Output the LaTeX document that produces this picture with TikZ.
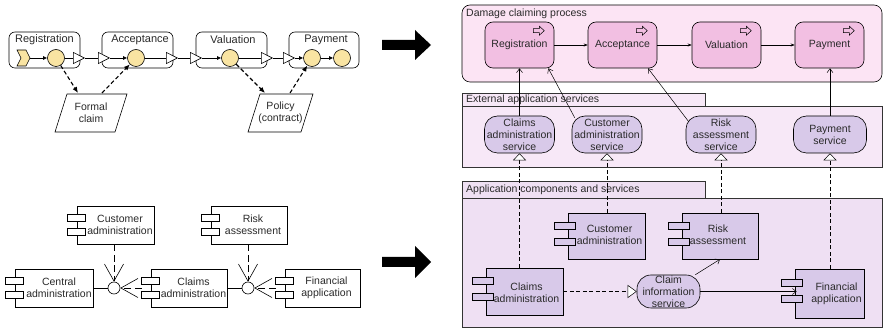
\documentclass[tikz,border=0pt]{standalone}
\usepackage{fontspec}
\setmainfont{Liberation Sans}
\usetikzlibrary{arrows.meta,calc}
\definecolor{yel}{HTML}{F9E4A2}
\definecolor{pinkbg}{HTML}{FCE4F4}
\definecolor{pinkproc}{HTML}{F2BFE2}
\definecolor{extbg}{HTML}{F7E8F7}
\definecolor{appbg}{HTML}{EFE0F3}
\definecolor{lav}{HTML}{D8C9E9}
\definecolor{txt}{HTML}{2A2A2A}
\definecolor{bord}{HTML}{333333}
\newcommand\smallrectsL[1]{%
  \draw[line width=0.6pt,fill=white] ($(#1.west)+(-9,-11)$) rectangle ++(18,7);
  \draw[line width=0.6pt,fill=white] ($(#1.west)+(-9,3)$) rectangle ++(18,7);}
\newcommand\smallrectsR[1]{%
  \draw[line width=0.6pt,fill=lav] ($(#1.west)+(-13,-14)$) rectangle ++(21,7);
  \draw[line width=0.6pt,fill=lav] ($(#1.west)+(-13,2)$) rectangle ++(21,7);}
\newcommand\procicon[1]{%
  \draw[line width=0.5pt] ($(#1.north east)+(-21,7)$) -- ++(6,0) -- ++(0,-2.5) -- ++(5,4.5) -- ++(-5,4.5) -- ++(0,-2.5) -- ++(-6,0) -- cycle;}
\begin{document}
\begin{tikzpicture}[x=1pt,y=-1pt,
  every node/.style={font=\fontsize{10.5}{12}\selectfont, inner sep=0pt, text=txt},
  pgroup/.style={draw, rounded corners=6pt, line width=0.6pt},
  ycirc/.style={draw, circle, fill=yel, minimum size=17pt, line width=0.6pt},
  tri/.style={line width=0.6pt, -{Triangle[fill=white,length=12pt,width=12pt,line width=0.6pt]}},
  flow/.style={line width=0.6pt, -{Latex[length=4pt,width=4pt]}},
  dashthick/.style={line width=1.1pt, dash pattern=on 4pt off 2.5pt, -{Latex[length=6pt,width=5pt]}},
  compL/.style={draw, fill=white, line width=0.6pt},
  openv/.style={line width=0.9pt, dash pattern=on 7pt off 3.5pt, -{Straight Barb[length=17pt,width=19pt,line width=0.6pt]}},
  bigarrow/.style={fill=black},
  layer/.style={draw=bord, line width=0.6pt},
  proc/.style={draw, rounded corners=8pt, fill=pinkproc, minimum width=69pt, minimum height=46pt, line width=0.6pt},
  serv/.style={draw, rounded corners=13pt, fill=lav, minimum width=70pt, minimum height=37pt, line width=0.6pt, align=center},
  compR/.style={draw, fill=lav, line width=0.6pt},
  pflow/.style={line width=0.5pt, -{Stealth[length=4pt,width=3pt]}},
  used/.style={line width=0.5pt, -{Straight Barb[length=4pt,width=6pt,line width=0.5pt]}},
  real/.style={line width=0.5pt, dash pattern=on 4pt off 2.5pt, -{Triangle[fill=white,length=7pt,width=13pt,line width=0.5pt]}},
]
\useasboundingbox (0,0) rectangle (883,328);

% ================= left top: process flow =================
\node[pgroup, minimum width=71pt, minimum height=36pt] (gReg) at (44.5,50) {};
\node[pgroup, minimum width=71pt, minimum height=36pt] (gAcc) at (137.5,50) {};
\node[pgroup, minimum width=71pt, minimum height=36pt] (gVal) at (231.5,50) {};
\node[pgroup, minimum width=70pt, minimum height=36pt] (gPay) at (324,50) {};
\node[font=\fontsize{11}{12}\selectfont] (lReg) at (44.5,40) {Registration};
\node[font=\fontsize{11}{12}\selectfont] (lAcc) at (140,39.5) {Acceptance};
\node[font=\fontsize{11}{12}\selectfont] (lVal) at (233,39.5) {Valuation};
\node[font=\fontsize{11}{12}\selectfont] (lPay) at (326,39.5) {Payment};

\coordinate (ev) at (30,58);
\draw[fill=yel, line width=0.6pt] (17,50) -- (26,50) -- (30,58) -- (26,66) -- (17,66) -- (21,58) -- cycle;
\node[ycirc] (c1) at (56,58) {};
\node[ycirc] (c2) at (136,58) {};
\node[ycirc] (c3) at (230,58) {};
\node[ycirc] (c4) at (312,58) {};
\node[ycirc] (c5) at (342,58) {};
\coordinate (t1) at (85,58);
\coordinate (t2) at (110,58);
\coordinate (t3) at (178,58);
\coordinate (t4) at (202,58);
\coordinate (t5) at (273,58);
\coordinate (t6) at (295,58);
\draw[flow] (ev) -- (c1);
\draw[tri] (c1) -- (t1);
\draw[tri] (t1) -- (t2);
\draw[flow] (t2) -- (c2);
\draw[tri] (c2) -- (t3);
\draw[tri] (t3) -- (t4);
\draw[flow] (t4) -- (c3);
\draw[tri] (c3) -- (t5);
\draw[tri] (t5) -- (t6);
\draw[flow] (t6) -- (c4);
\draw[flow] (c4) -- (c5);

% data objects
\draw[line width=0.6pt, fill=white] (55,132) -- (67,94) -- (127,94) -- (115,132) -- cycle;
\node[align=center] (fclaim) at (91,113) {Formal\\claim};
\draw[line width=0.6pt, fill=white] (248,132) -- (260,94) -- (313,94) -- (301,132) -- cycle;
\node[align=center] (policy) at (280.5,113) {Policy\\(contract)};
\coordinate (fA) at (78,93);
\coordinate (fB) at (102,93);
\coordinate (pA) at (265,93);
\coordinate (pB) at (290,93);
\draw[dashthick] (c1) -- (fA);
\draw[dashthick] (fB) -- (c2);
\draw[dashthick] (c3) -- (pA);
\draw[dashthick] (pB) -- (c4);

% ================= left bottom: components =================
\node[compL, minimum width=77pt, minimum height=38pt] (cust) at (115.5,225) {};
\node[compL, minimum width=76pt, minimum height=38pt] (risk) at (249,225) {};
\node[compL, minimum width=78pt, minimum height=38pt] (central) at (54,288) {};
\node[compL, minimum width=76pt, minimum height=38pt] (claims) at (189,288) {};
\node[compL, minimum width=75pt, minimum height=38pt] (fin) at (322.5,288) {};
\smallrectsL{cust}\smallrectsL{risk}\smallrectsL{central}\smallrectsL{claims}\smallrectsL{fin}
\node[align=center] (custT) at ($(cust.center)+(4.5,0)$) {Customer\\administration};
\node[align=center] (riskT) at ($(risk.center)+(4,0)$) {Risk\\assessment};
\node[align=center] (centralT) at ($(central.center)+(5,0)$) {Central\\administration};
\node[align=center] (claimsT) at ($(claims.center)+(4.5,0)$) {Claims\\administration};
\node[align=center] (finT) at ($(fin.center)+(4,0)$) {Financial\\application};

\node[draw, circle, fill=white, minimum size=12pt, line width=0.6pt] (ci1) at (114,288) {};
\node[draw, circle, fill=white, minimum size=12pt, line width=0.6pt] (ci2) at (248,288) {};
\draw[line width=0.6pt] (central.east) -- (ci1);
\draw[line width=0.6pt] (claims.east) -- (ci2);
\coordinate (claimsL) at ($(claims.west)+(-9,0)$);
\coordinate (finL) at ($(fin.west)+(-9,0)$);
\draw[openv] (ci1 |- cust.south) -- (ci1);
\draw[openv] (claimsL) -- (ci1);
\draw[openv] (ci2 |- risk.south) -- (ci2);
\draw[openv] (finL) -- (ci2);

% ================= big arrows =================
\fill[bigarrow] (382,40) -- (415,40) -- (415,30) -- (431,45) -- (415,60) -- (415,50) -- (382,50) -- cycle;
\fill[bigarrow] (382,257) -- (415,257) -- (415,246) -- (431,262) -- (415,278) -- (415,267) -- (382,267) -- cycle;

% ================= right: layers =================
\node[draw, rounded corners=8pt, fill=pinkbg, minimum width=420pt, minimum height=77pt, line width=0.6pt] (dcp) at (672,43.5) {};
\node[anchor=west] (dcpL) at (466,14) {Damage claiming process};

\node[layer, fill=extbg, minimum width=243pt, minimum height=13pt] (extTab) at (583.5,99.5) {};
\node[layer, fill=extbg, minimum width=420pt, minimum height=61pt] (extBox) at (672,136.5) {};
\node[anchor=west] (extL) at (466,100) {External application services};

\node[layer, fill=appbg, minimum width=243pt, minimum height=17pt] (appTab) at (583.5,189.5) {};
\node[layer, fill=appbg, minimum width=420pt, minimum height=129pt] (appBox) at (672,262.5) {};
\node[anchor=west] (appL) at (466,189.5) {Application components and services};

% processes
\node[proc] (reg) at (519.5,45) {Registration};
\node[proc] (acc) at (622.5,45) {Acceptance};
\node[proc] (val) at (726.5,45) {Valuation};
\node[proc] (pay) at (829.5,45) {Payment};
\procicon{reg}\procicon{acc}\procicon{val}\procicon{pay}
\draw[pflow] (reg) -- (acc);
\draw[pflow] (acc) -- (val);
\draw[pflow] (val) -- (pay);

% services
\node[serv] (s1) at (519.5,134.5) {Claims\\administration\\service};
\node[serv] (s2) at (607,134.5) {Customer\\administration\\service};
\node[serv] (s3) at (721,134.5) {Risk\\assessment\\service};
\node[serv, minimum width=73pt] (s4) at (830,134.5) {Payment\\service};

\draw[used] (s1.north) -- (s1.north |- reg.south);
\draw[used] ($(s2.north west)+(3,2)$) -- ($(reg.south east)+(-6,0)$);
\draw[used] ($(s3.north west)+(3,6)$) -- ($(acc.south)+(25.5,0)$);
\draw[used] (s4.north) -- (s4.north |- pay.south);

% components
\node[compR, minimum width=77pt, minimum height=46pt] (custC) at (606.5,236) {};
\node[compR, minimum width=76pt, minimum height=46pt] (riskC) at (720,236) {};
\node[compR, minimum width=77pt, minimum height=47pt] (claimsC) at (524.5,291.5) {};
\node[compR, minimum width=69pt, minimum height=49pt] (finC) at (829.5,293.5) {};
\smallrectsR{custC}\smallrectsR{riskC}\smallrectsR{claimsC}\smallrectsR{finC}
\node[align=center] (custCT) at ($(custC.center)+(3,-1)$) {Customer\\administration};
\node[align=center] (riskCT) at ($(riskC.center)+(-2,-1)$) {Risk\\assessment};
\node[align=center] (claimsCT) at ($(claimsC.center)+(2,1)$) {Claims\\administration};
\node[align=center] (finCT) at ($(finC.center)+(7,0)$) {Financial\\application};

\node[serv, rounded corners=14pt, minimum width=63pt, minimum height=33pt] (cis) at (668.5,291.5) {Claim\\information\\service};

\draw[real] (claimsC.north -| s1) -- (s1.south);
\draw[real] (custC.north -| s2) -- (s2.south);
\draw[real] (riskC.north -| s3) -- (s3.south);
\draw[real] (finC.north -| s4) -- (s4.south);

\draw[line width=0.5pt, dash pattern=on 4pt off 2.5pt, -{Triangle[fill=white,length=9pt,width=13pt,line width=0.5pt]}] (claimsC.east) -- (cis.west);
\draw[used] (cis) -- (riskC.south);
\draw[used] (cis.east) -- ($(cis.east -| finC.west)+(2,0)$);
\end{tikzpicture}
\end{document}
